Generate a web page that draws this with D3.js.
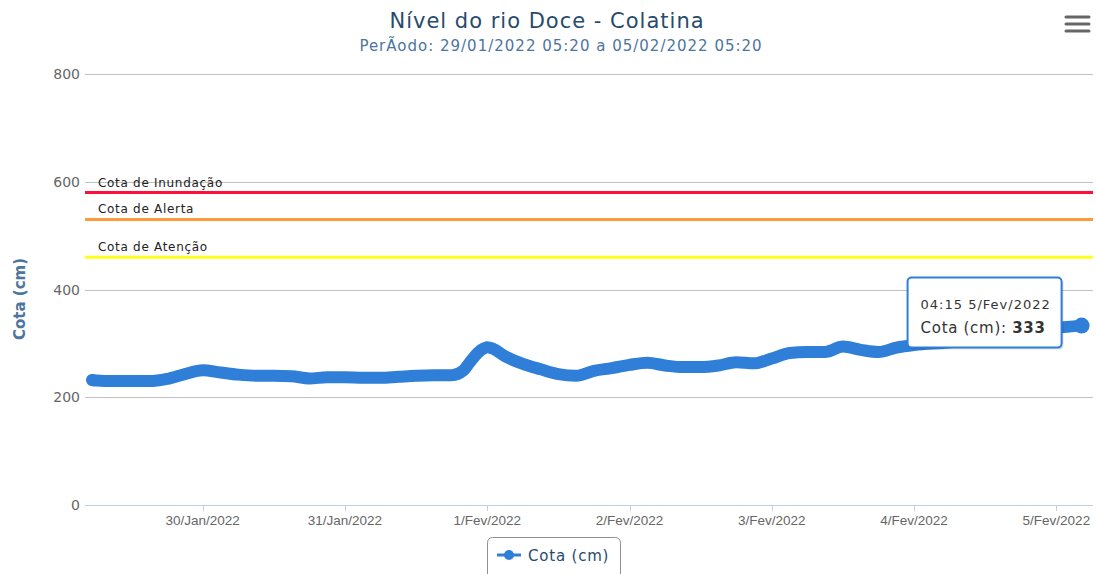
<!DOCTYPE html>
<html>
<head>
<meta charset="utf-8">
<script src="https://cdn.jsdelivr.net/npm/d3@7"></script>
<style>
  body { margin: 0; background: #fff; }
  svg { display: block; font-family: "DejaVu Sans", "Open Sans", sans-serif; }
</style>
</head>
<body>
<svg id="chart" width="1097" height="574"></svg>
<script>
// leituras (hora local) e cota em cm
var horas = [
  "2022-01-29 05:20", "2022-01-29 06:00", "2022-01-29 09:00", "2022-01-29 12:00", "2022-01-29 15:00",
  "2022-01-29 18:00", "2022-01-29 21:00", "2022-01-30 00:00", "2022-01-30 03:00", "2022-01-30 06:00",
  "2022-01-30 09:00", "2022-01-30 12:00", "2022-01-30 15:00", "2022-01-30 18:00", "2022-01-30 21:00",
  "2022-01-31 00:00", "2022-01-31 03:00", "2022-01-31 06:00", "2022-01-31 09:00", "2022-01-31 12:00",
  "2022-01-31 15:00", "2022-01-31 18:00", "2022-01-31 20:00", "2022-01-31 21:00", "2022-01-31 23:00",
  "2022-02-01 00:00", "2022-02-01 01:00", "2022-02-01 03:00", "2022-02-01 06:00", "2022-02-01 09:00",
  "2022-02-01 12:00", "2022-02-01 15:00", "2022-02-01 18:00", "2022-02-01 21:00", "2022-02-02 00:00",
  "2022-02-02 03:00", "2022-02-02 06:00", "2022-02-02 09:00", "2022-02-02 12:00", "2022-02-02 15:00",
  "2022-02-02 18:00", "2022-02-02 21:00", "2022-02-03 00:00", "2022-02-03 03:00", "2022-02-03 06:00",
  "2022-02-03 09:00", "2022-02-03 12:00", "2022-02-03 15:00", "2022-02-03 18:00", "2022-02-03 21:00",
  "2022-02-04 00:00", "2022-02-04 06:00", "2022-02-04 12:00", "2022-02-04 18:00", "2022-02-05 00:00",
  "2022-02-05 04:15"
];
var cotas = [
  232, 231, 230, 230, 230,
  234, 243, 250, 246, 242,
  240, 240, 239, 235, 237,
  237, 236, 236, 238, 240,
  241, 241, 250, 264, 288,
  293, 290, 276, 262, 252,
  243, 240, 249, 254, 260,
  264, 259, 256, 256, 259,
  265, 263, 272, 282, 284,
  284, 294, 288, 284, 292,
  297, 302, 312, 321, 329,
  333
];

var cotasRef = [580, 530, 460];
var nomesRef = ["Cota de Inundação", "Cota de Alerta", "Cota de Atenção"];
var coresRef = ["#ff0f3a", "#ff9a3c", "#ffff1a"];

var yTicks = [0, 200, 400, 600, 800];
var meses = ["Jan", "Fev", "Mar", "Abr", "Mai", "Jun", "Jul", "Ago", "Set", "Out", "Nov", "Dez"];

var titulo = "Nível do rio Doce - Colatina";
var subtitulo = "PerÃodo: 29/01/2022 05:20 a 05/02/2022 05:20";
var nomeSerie = "Cota (cm)";

var parse = d3.timeParse("%Y-%m-%d %H:%M");
var dados = horas.map(function (h, i) { return { t: parse(h), v: cotas[i] }; });

var svg = d3.select("#chart");
var plotL = 85, plotR = 1093, plotT = 74, plotB = 505;

var x = d3.scaleTime()
    .domain([parse("2022-01-29 05:20"), parse("2022-02-05 05:20")])
    .range([92, 1088]);
var y = d3.scaleLinear().domain([0, 800]).range([plotB, plotT]);

// titulo
svg.append("text").attr("x", 547).attr("y", 28).attr("text-anchor", "middle")
    .style("font-size", "21px").style("letter-spacing", "1px").style("fill", "#274b6d").text(titulo);
svg.append("text").attr("x", 561).attr("y", 51).attr("text-anchor", "middle")
    .style("font-size", "15px").style("letter-spacing", "1px").style("fill", "#4d759e").text(subtitulo);

// menu
[17, 24, 31].forEach(function (yy) {
    svg.append("line").attr("x1", 1066).attr("x2", 1089).attr("y1", yy).attr("y2", yy)
        .style("stroke", "#666").style("stroke-width", 3).style("stroke-linecap", "round");
});

// grade
svg.append("g").selectAll("line").data(yTicks.filter(function (d) { return d > 0; }))
    .enter().append("line")
    .attr("x1", plotL).attr("x2", plotR)
    .attr("y1", function (d) { return Math.round(y(d)) + 0.5; })
    .attr("y2", function (d) { return Math.round(y(d)) + 0.5; })
    .style("stroke", "#c0c0c0").style("stroke-width", 1);

svg.append("g").selectAll("text").data(yTicks)
    .enter().append("text")
    .attr("x", 80).attr("y", function (d) { return y(d) + 5; })
    .attr("text-anchor", "end")
    .style("font-size", "14px").style("fill", "#666")
    .text(function (d) { return d; });

svg.append("text")
    .attr("transform", "translate(25,299) rotate(-90)")
    .attr("text-anchor", "middle")
    .style("font-size", "15px").style("font-weight", "bold").style("fill", "#4d759e")
    .text(nomeSerie);

// linhas de referencia
cotasRef.forEach(function (c, i) {
    svg.append("line").attr("x1", plotL).attr("x2", plotR)
        .attr("y1", y(c)).attr("y2", y(c))
        .style("stroke", coresRef[i]).style("stroke-width", 3);
    svg.append("text").attr("x", 98).attr("y", y(c) - 6)
        .style("font-size", "12px").style("letter-spacing", "0.7px")
        .style("fill", "#222").text(nomesRef[i]);
});

// eixo x
svg.append("line").attr("x1", plotL).attr("x2", plotR).attr("y1", plotB + 0.5).attr("y2", plotB + 0.5)
    .style("stroke", "#c0d0e0").style("stroke-width", 1);
var dias = x.ticks(d3.timeDay.every(1)).filter(function (d) { return x(d) > plotL && x(d) < plotR; });
var fmtDia = function (d) { return d.getDate() + "/" + meses[d.getMonth()] + "/" + d.getFullYear(); };
svg.append("g").selectAll("line").data(dias).enter().append("line")
    .attr("x1", function (d) { return Math.round(x(d)) + 0.5; })
    .attr("x2", function (d) { return Math.round(x(d)) + 0.5; })
    .attr("y1", plotB).attr("y2", plotB + 6)
    .style("stroke", "#c0d0e0");
svg.append("g").selectAll("text").data(dias).enter().append("text")
    .attr("x", function (d) { return x(d); }).attr("y", 525)
    .attr("text-anchor", "middle")
    .style("font-family", "'Liberation Sans', Arial, sans-serif")
    .style("font-size", "13.5px").style("fill", "#666")
    .text(fmtDia);

// serie
var linha = d3.line().x(function (d) { return x(d.t); }).y(function (d) { return y(d.v); })
    .curve(d3.curveMonotoneX);
svg.append("path").datum(dados).attr("d", linha)
    .style("fill", "none").style("stroke", "#2f7ed8").style("stroke-width", 12)
    .style("stroke-linecap", "round").style("stroke-linejoin", "round");
var ult = dados[dados.length - 1];
svg.append("circle").attr("cx", x(ult.t)).attr("cy", y(ult.v)).attr("r", 8).style("fill", "#2f7ed8");

// tooltip
var px = x(ult.t), py = y(ult.v);
var tip = svg.append("g").attr("transform", "translate(" + (px - 174) + "," + (py - 48) + ")");
tip.append("rect").attr("x", 2).attr("y", 2).attr("width", 154).attr("height", 70).attr("rx", 4)
    .style("fill", "rgba(0,0,0,0.12)");
tip.append("rect").attr("width", 154).attr("height", 70).attr("rx", 4)
    .style("fill", "#fff").style("stroke", "#2f7ed8").style("stroke-width", 2);
tip.append("text").attr("x", 13).attr("y", 31)
    .style("font-size", "13px").style("letter-spacing", "1px").style("fill", "#333")
    .text(d3.timeFormat("%H:%M")(ult.t) + " " + fmtDia(ult.t));
var l2 = tip.append("text").attr("x", 13).attr("y", 55)
    .style("font-size", "15px").style("letter-spacing", "0.7px").style("fill", "#333");
l2.append("tspan").text(nomeSerie + ": ");
l2.append("tspan").style("font-weight", "bold").text(ult.v);

// legenda
var leg = svg.append("g").attr("transform", "translate(487,537)");
leg.append("rect").attr("x", 0.5).attr("y", 0.5).attr("width", 133).attr("height", 45).attr("rx", 5)
    .style("fill", "#fff").style("stroke", "#909090");
leg.append("line").attr("x1", 10).attr("x2", 34).attr("y1", 18).attr("y2", 18)
    .style("stroke", "#2f7ed8").style("stroke-width", 3);
leg.append("circle").attr("cx", 22).attr("cy", 18).attr("r", 5).style("fill", "#2f7ed8");
leg.append("text").attr("x", 41).attr("y", 24)
    .style("font-size", "15px").style("letter-spacing", "0.8px").style("fill", "#274b6d").text(nomeSerie);
</script>
</body>
</html>
